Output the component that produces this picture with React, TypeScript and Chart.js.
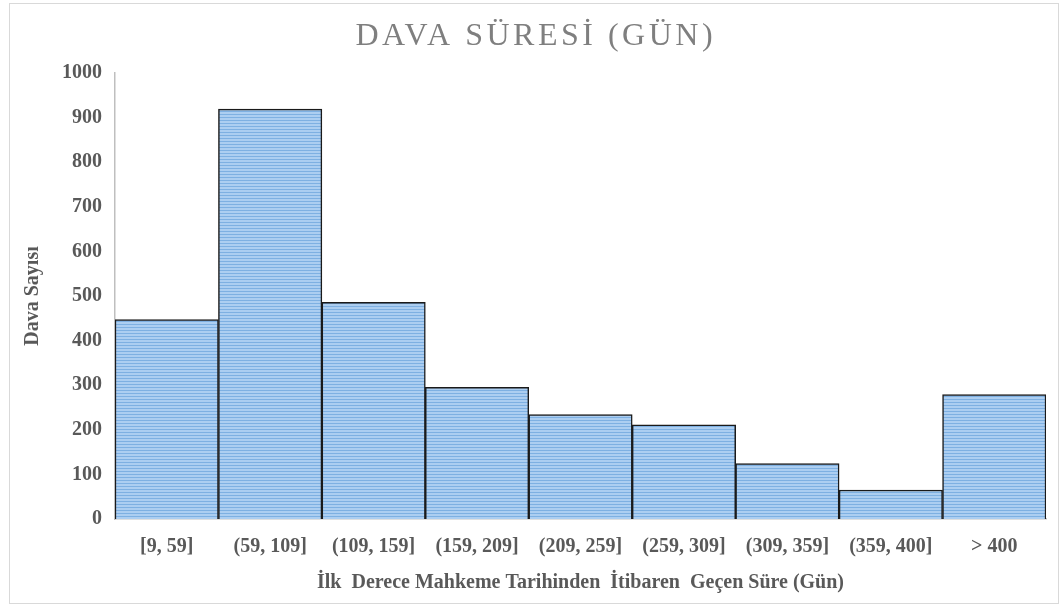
import React, { useEffect, useRef } from "react";
import { Chart, registerables } from "chart.js";

Chart.register(...registerables);

const categories: string[] = [
  "[9, 59]",
  "(59, 109]",
  "(109, 159]",
  "(159, 209]",
  "(209, 259]",
  "(259, 309]",
  "(309, 359]",
  "(359, 400]",
  "> 400",
];
const davaSayisi: number[] = [447, 919, 486, 295, 234, 211, 124, 65, 279];
const chartTitle = "DAVA SÜRESİ (GÜN)";
const xTitle = "İlk  Derece Mahkeme Tarihinden  İtibaren  Geçen Süre (Gün)";
const yTitle = "Dava Sayısı";

const FONT = "'Liberation Serif', 'Times New Roman', serif";

function makePattern(): CanvasPattern | string {
  const c = document.createElement("canvas");
  c.width = 4;
  c.height = 3;
  const g = c.getContext("2d");
  if (!g) return "#9dc3e6";
  g.fillStyle = "#acceF1";
  g.fillRect(0, 0, 4, 3);
  g.fillStyle = "#7eb0e2";
  g.fillRect(0, 2, 4, 1);
  const p = g.createPattern(c, "repeat");
  return p || "#9dc3e6";
}

const titlePlugin = {
  id: "spacedTitle",
  afterDraw(chart: any) {
    const ctx = chart.ctx as CanvasRenderingContext2D;
    ctx.save();
    ctx.font = `32px ${FONT}`;
    ctx.fillStyle = "#7f7f7f";
    (ctx as any).letterSpacing = "3.5px";
    ctx.textAlign = "left";
    ctx.textBaseline = "alphabetic";
    const w = ctx.measureText(chartTitle).width - 3.5;
    ctx.fillText(chartTitle, chart.width / 2 - w / 2, 41);
    ctx.restore();
  },
};

export default function App() {
  const ref = useRef<HTMLCanvasElement | null>(null);

  useEffect(() => {
    if (!ref.current) return;
    const chart = new Chart(ref.current, {
      type: "bar",
      data: {
        labels: categories,
        datasets: [
          {
            label: yTitle,
            data: davaSayisi,
            backgroundColor: makePattern() as any,
            borderColor: "#1a1a1a",
            borderWidth: 1.5,
            barPercentage: 1,
            categoryPercentage: 1,
          },
        ],
      },
      options: {
        animation: false,
        responsive: false,
        maintainAspectRatio: false,
        layout: { padding: { top: 69, right: 12, bottom: 0, left: 0 } },
        plugins: {
          legend: { display: false },
          tooltip: { enabled: false },
          title: { display: false },
        },
        scales: {
          x: {
            grid: { display: false, drawTicks: false },
            border: { display: true, color: "#bfbfbf", width: 1.5 },
            ticks: {
              color: "#595959",
              font: { family: FONT, size: 20, weight: "bold" },
              padding: 16,
              maxRotation: 0,
              autoSkip: false,
            },
            title: {
              display: true,
              text: xTitle,
              color: "#595959",
              font: { family: FONT, size: 20, weight: "bold" },
              padding: { top: -4, bottom: 8 },
            },
          },
          y: {
            min: 0,
            max: 1000,
            grid: { display: false, drawTicks: false },
            border: { display: true, color: "#bfbfbf", width: 1.5 },
            ticks: {
              stepSize: 100,
              color: "#595959",
              font: { family: FONT, size: 20, weight: "bold" },
              padding: 13,
              callback: (v: any) => String(v),
            },
            title: {
              display: true,
              text: yTitle,
              color: "#595959",
              font: { family: FONT, size: 20, weight: "bold" },
              padding: { top: 11, bottom: 4 },
            },
          },
        },
      },
      plugins: [titlePlugin],
    });
    return () => chart.destroy();
  }, []);

  return (
    <div
      style={{
        position: "absolute",
        left: 9,
        top: 3,
        width: 1050,
        height: 601,
        border: "1px solid #d9d9d9",
        boxSizing: "border-box",
        background: "#fff",
      }}
    >
      <canvas ref={ref} width={1048} height={599} style={{ display: "block" }} />
    </div>
  );
}
